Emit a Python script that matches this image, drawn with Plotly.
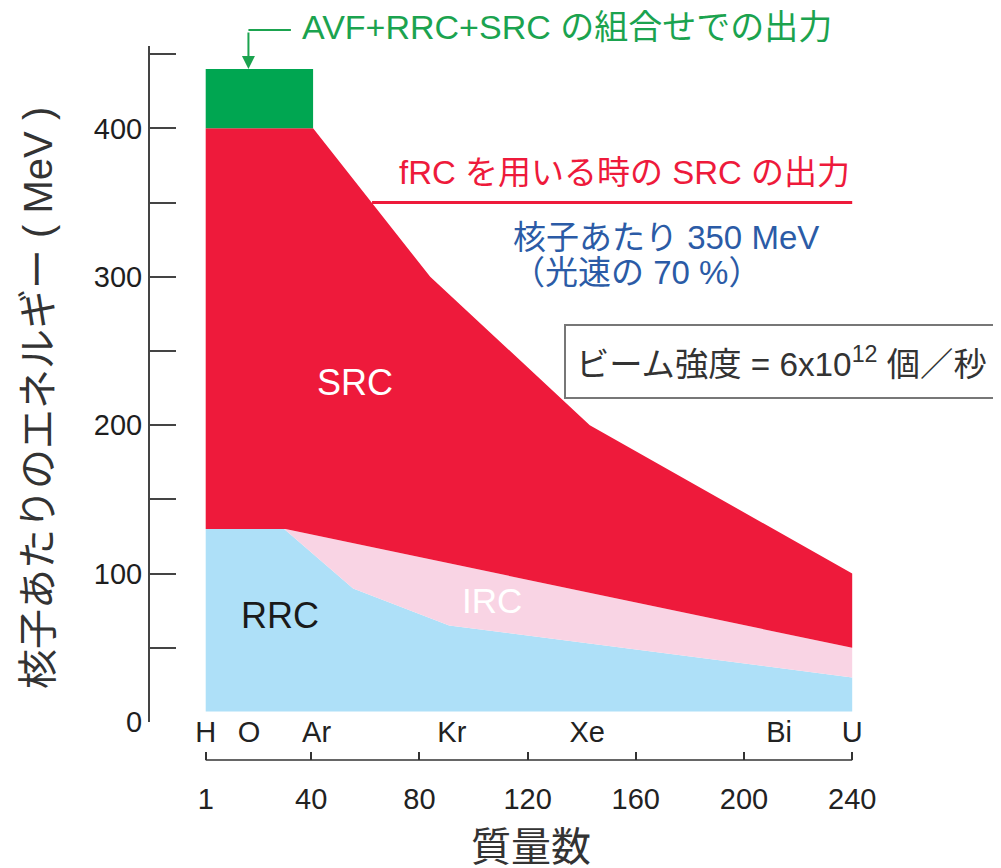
import plotly.graph_objects as go

# ---------------- data ----------------
rrc_x = [1, 30, 55.5, 91, 240]
rrc_y = [130, 130, 90, 65, 30]
irc_x = [1, 30.5, 240]
irc_y = [130, 130, 50]
src_x = [1, 40.7, 84, 143, 240]
src_y = [400, 400, 300, 200, 100]
avf_x = [1, 40.7]
avf_y = [440, 440]
fill_floor = 7
frc_x = [62.5, 240]
frc_y = [350, 350]

elements = ["H", "O", "Ar", "Kr", "Xe", "Bi", "U"]
element_pos = [1, 17, 42, 92, 142, 213, 240]
mass_ticks = [1, 40, 80, 120, 160, 200, 240]
y_ticks = [0, 50, 100, 150, 200, 250, 300, 350, 400, 450]
y_ticktext = ["0", "", "100", "", "200", "", "300", "", "400", ""]

# ---------------- layout geometry ----------------
W, H = 1001, 868
OFF = 8  # page body margin
ML, MR, MT, MB = 142, 139, 38, 5
X_RANGE = [-19.59, 246.58]
Y_RANGE = [0, 455.5]
PLOT_H = H - MT - MB
Y_DOM0 = (H - MB - (722 - OFF)) / PLOT_H
XAX2_POS = (H - MB - (760 - OFF)) / PLOT_H


def py_paper(sy):
    return (H - MB - (sy - OFF)) / PLOT_H


def px_paper(sx):
    return (sx - OFF - ML) / (W - ML - MR)


BLUE = "#aee0f8"
PINK = "#f9d4e4"
RED = "#ee1a3b"
GREEN = "#00a651"
GREEN_T = "#1ba34f"
BLUE_T = "#2b5ba6"
LAT = "Liberation Sans, Noto Sans CJK JP, sans-serif"
NARROW = "Liberation Sans Narrow, Liberation Sans, sans-serif"

fig = go.Figure()
common = dict(mode="lines", line=dict(width=0), hoverinfo="skip", showlegend=False)

fig.add_trace(go.Scatter(x=[rrc_x[0], rrc_x[-1]], y=[fill_floor, fill_floor], **common))
fig.add_trace(go.Scatter(x=rrc_x, y=rrc_y, fill="tonexty", fillcolor=BLUE, **common))
fig.add_trace(go.Scatter(x=irc_x, y=irc_y, fill="tonexty", fillcolor=PINK, **common))
fig.add_trace(go.Scatter(x=src_x, y=src_y, fill="tonexty", fillcolor=RED, **common))
fig.add_trace(go.Scatter(x=avf_x, y=src_y[:2], **common))
fig.add_trace(go.Scatter(x=avf_x, y=avf_y, fill="tonexty", fillcolor=GREEN, **common))
fig.add_trace(go.Scatter(x=frc_x, y=frc_y, mode="lines", line=dict(color=RED, width=3),
                         hoverinfo="skip", showlegend=False))
# invisible trace so that the mass-number axis is drawn
fig.add_trace(go.Scatter(x=[mass_ticks[0], mass_ticks[-1]], y=[fill_floor, fill_floor],
                         xaxis="x2", mode="lines", line=dict(width=0), opacity=0,
                         hoverinfo="skip", showlegend=False))

fig.update_layout(
    width=W, height=H,
    margin=dict(l=ML, r=MR, t=MT, b=MB, autoexpand=False),
    paper_bgcolor="white", plot_bgcolor="white",
    xaxis=dict(range=X_RANGE, showgrid=False, zeroline=False, showline=False,
               automargin=False,
               tickmode="array", tickvals=element_pos, ticktext=elements,
               ticks="", ticklabelstandoff=-10,
               tickfont=dict(family=NARROW, size=29, color="#222")),
    xaxis2=dict(range=X_RANGE, overlaying="x", anchor="free", position=XAX2_POS,
                side="bottom", showgrid=False, zeroline=False, showline=False,
                automargin=False,
                tickmode="array", tickvals=mass_ticks,
                ticks="inside", ticklen=8, tickwidth=1.6, tickcolor="#333",
                ticklabelstandoff=19,
                tickfont=dict(family=NARROW, size=29, color="#222")),
    yaxis=dict(range=Y_RANGE, domain=[Y_DOM0, 1], showgrid=False, zeroline=False,
               automargin=False,
               showline=True, linecolor="#444", linewidth=2,
               tickmode="array", tickvals=y_ticks, ticktext=y_ticktext,
               ticks="inside", ticklen=26, tickwidth=1.6, tickcolor="#444",
               ticklabelstandoff=0,
               tickfont=dict(family=LAT, size=29, color="#1e1e1e")),
)

# mass-number axis line
fig.add_shape(type="line", xref="x", yref="paper", x0=mass_ticks[0], x1=mass_ticks[-1],
              y0=XAX2_POS, y1=XAX2_POS, line=dict(color="#333", width=1.6))

# elbow arrow to the green block
arrow_y = py_paper(30)
fig.add_shape(type="line", xref="x", yref="paper", x0=16.8, x1=32.5, y0=arrow_y, y1=arrow_y,
              line=dict(color=GREEN_T, width=2))
fig.add_annotation(x=16.8, y=avf_y[0], xref="x", yref="y", ax=0, ay=-38,
                   axref="pixel", ayref="pixel", text="", showarrow=True,
                   arrowhead=2, arrowsize=1.3, arrowwidth=2, arrowcolor=GREEN_T)
fig.add_annotation(x=px_paper(300), y=py_paper(27), xref="paper", yref="paper",
                   xanchor="left", yanchor="middle", showarrow=False,
                   text="AVF+RRC+SRC の組合せでの出力",
                   font=dict(family=LAT, size=34, color=GREEN_T))

# fRC annotation
fig.add_annotation(x=240, y=370.6, xref="x", yref="y", xanchor="right", yanchor="middle",
                   showarrow=False, text="fRC を用いる時の SRC の出力",
                   font=dict(family=LAT, size=33, color=RED))
fig.add_annotation(x=114.0, y=326.8, xref="x", yref="y", xanchor="left", yanchor="middle",
                   showarrow=False, text="核子あたり 350 MeV",
                   font=dict(family=LAT, size=33, color=BLUE_T))
fig.add_annotation(x=113.5, y=303, xref="x", yref="y", xanchor="left", yanchor="middle",
                   showarrow=False, text="（光速の 70 %）",
                   font=dict(family=LAT, size=33, color=BLUE_T))

# beam intensity box
fig.add_shape(type="rect", xref="paper", yref="y", x0=px_paper(565), x1=1.3,
              y0=218.3, y1=267.5, line=dict(color="#777", width=2), fillcolor="white")
fig.add_annotation(x=px_paper(574), y=242.6, xref="paper", yref="y", xanchor="left",
                   yanchor="middle", showarrow=False,
                   text="ビーム強度 = 6x10<sup>12</sup> 個／秒",
                   font=dict(family=LAT, size=33.3, color="#333"))

# region labels
fig.add_annotation(x=56.2, y=229, xref="x", yref="y", xanchor="center", yanchor="middle",
                   showarrow=False, text="SRC",
                   font=dict(family=LAT, size=36, color="white"))
fig.add_annotation(x=28.5, y=72, xref="x", yref="y", xanchor="center", yanchor="middle",
                   showarrow=False, text="RRC",
                   font=dict(family=LAT, size=36, color="#1a1a1a"))
fig.add_annotation(x=106.8, y=82.2, xref="x", yref="y", xanchor="center", yanchor="middle",
                   showarrow=False, text="IRC",
                   font=dict(family=LAT, size=35, color="white"))

# axis titles
fig.add_annotation(x=px_paper(38), y=py_paper(398), xref="paper", yref="paper",
                   xanchor="center", yanchor="middle",
                   showarrow=False, textangle=-90, text="核子あたりのエネルギー ( MeV )",
                   font=dict(family=LAT, size=40, color="#333"))
fig.add_annotation(x=px_paper(531), y=py_paper(847), xref="paper", yref="paper",
                   xanchor="center", yanchor="middle",
                   showarrow=False, text="質量数",
                   font=dict(family=LAT, size=40, color="#333"))

fig.write_html("out.html")
